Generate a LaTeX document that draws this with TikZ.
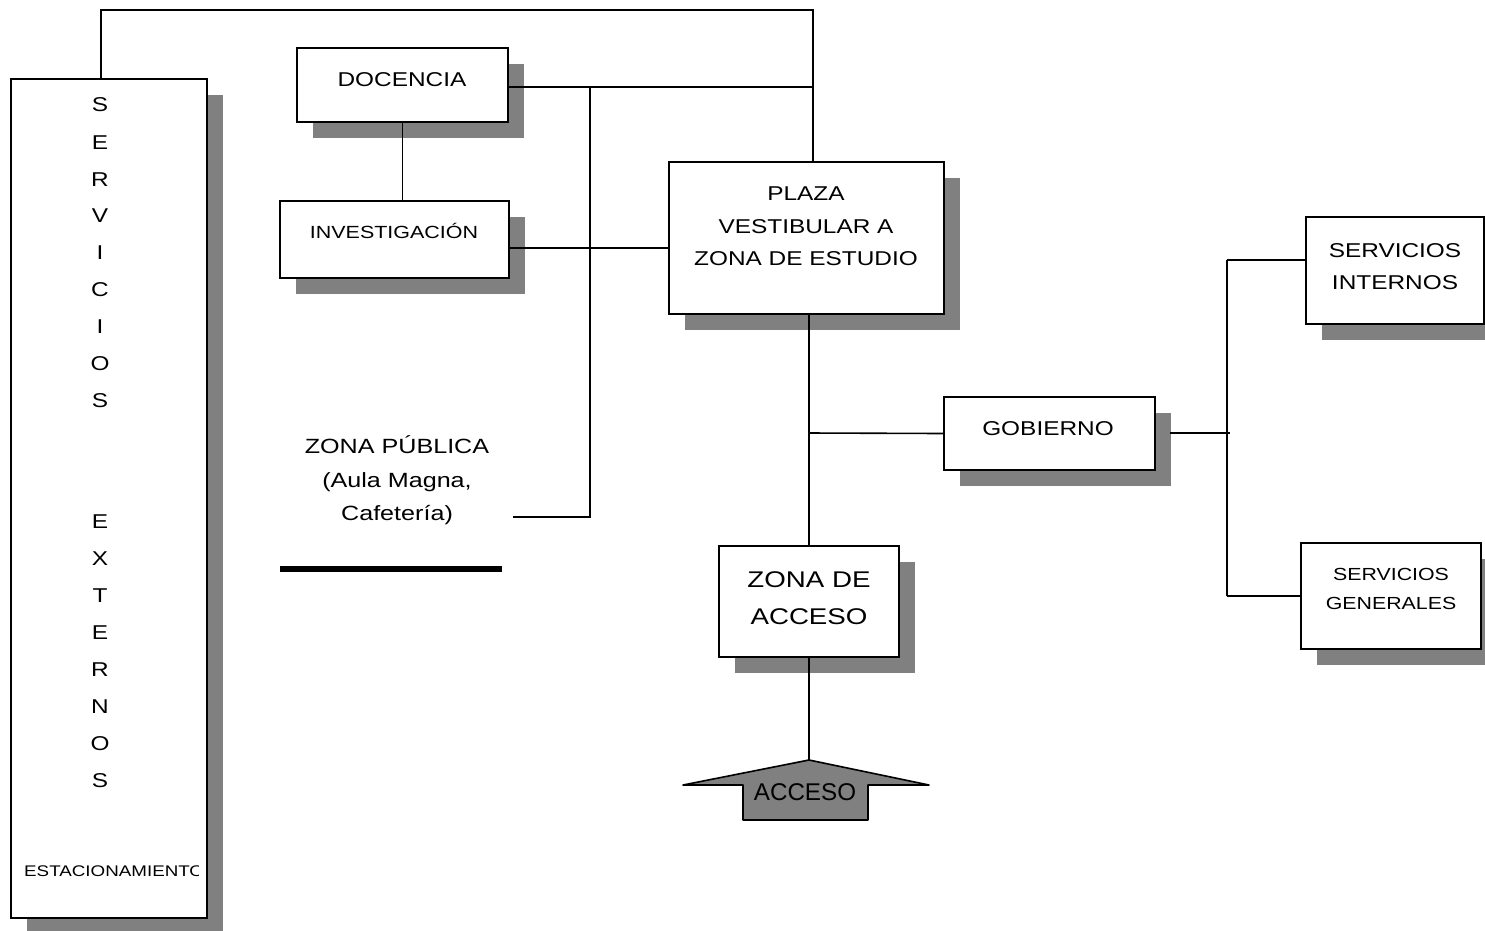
\documentclass[tikz,border=0pt]{standalone}
\usepackage{fontspec}
\setmainfont{Liberation Sans}[FakeStretch=1.22]
\newfontfamily\plainfont{Liberation Sans}
\usetikzlibrary{shadows}
\definecolor{shadowgray}{RGB}{128,128,128}
\begin{document}
\begin{tikzpicture}[x=1pt,y=-1pt,
  box/.style={draw=black, line width=1.6pt, fill=white, inner sep=0pt,
    drop shadow={shadow xshift=16pt, shadow yshift=-16pt, fill=shadowgray, opacity=1, draw=none}},
  conn/.style={draw=black, line width=1.6pt},
  lbl/.style={inner sep=0pt, align=center, text=black},
  f20/.style={font=\fontsize{20}{32.5}\selectfont},
  f17/.style={font=\fontsize{17.6}{29}\selectfont},
  f22/.style={font=\fontsize{22.7}{37}\selectfont}]
\useasboundingbox (0,0) rectangle (1485,930);
\fill[white] (0,0) rectangle (1485,930);

% boxes
\node[box, minimum width=196pt, minimum height=839pt] (serv) at (109,498.5) {};
\node[box, minimum width=211pt, minimum height=74pt] (doc) at (402.5,85) {};
\node[box, minimum width=229pt, minimum height=77pt] (inv) at (394.5,239.5) {};
\node[box, minimum width=275pt, minimum height=152pt] (plaza) at (806.5,238) {};
\node[box, minimum width=211pt, minimum height=73pt] (gob) at (1049.5,433.5) {};
\node[box, minimum width=180pt, minimum height=111pt] (acc) at (809,601.5) {};
\node[box, minimum width=178pt, minimum height=107pt] (int) at (1395,270.5) {};
\node[box, minimum width=180pt, minimum height=106pt] (gen) at (1391,596) {};

% coordinates
\coordinate (topL) at (101,10);
\coordinate (topR) at (813,10);
\coordinate (docR) at (813,87);
\coordinate (busT) at (590,87);
\coordinate (busB) at (590,517);
\coordinate (zpE) at (513,517);
\coordinate (invY) at (600,248);
\coordinate (gobJ) at (809,433);
\coordinate (gobR) at (1170,433);
\coordinate (gobE) at (1230,433);
\coordinate (vT) at (1227,260);
\coordinate (vB) at (1227,596);
\coordinate (tip) at (809,760);

% connectors
\draw[conn] (topL |- serv.north) -- (topL) -- (topR) -- (topR |- plaza.north);
\draw[conn] (doc.east |- docR) -- (docR);
\draw[conn] (busT) -- (busB) -- (zpE);
\draw[conn] (doc.south) -- (inv.north -| doc.south);
\draw[conn] (inv.east |- invY) -- (plaza.west |- invY);
\draw[conn] (acc.north) -- (acc.north |- plaza.south);
\draw[conn] (gobJ) -- (gob.west);
\draw[conn] (gobR) -- (gobE);
\draw[conn] (vT) -- (vB);
\draw[conn] (vT) -- (int.west |- vT);
\draw[conn] (vB) -- (gen.west |- vB);
\draw[conn] (acc.south) -- (tip);

% access arrow
\draw[line width=1.6pt, fill=shadowgray, line join=round]
  (tip) -- (929,785) -- (868,785) -- (868,820) -- (743,820) -- (743,785) -- (683,785) -- cycle;
\node[lbl, font=\plainfont\fontsize{24.2}{28}\selectfont] (accT) at (805,792) {ACCESO};

% thick bar
\draw[line width=6pt] (280,569) -- (502,569);

% texts
\foreach \ch/\yy [count=\i] in {S/105,E/143,R/180,V/216,I/253,C/290,I/327,O/364,S/401,E/522,X/559,T/596,E/633,R/670,N/707,O/744,S/781}
  \node[lbl, f20] (sv\i) at (100,\yy) {\ch};
\begin{scope}
  \clip (12,850) rectangle (198,892);
  \node[lbl, anchor=west, font=\fontsize{15.4}{18}\selectfont] (est) at (24,871) {ESTACIONAMIENTO};
\end{scope}
\node[lbl, f20] (docT) at (402,80) {DOCENCIA};
\node[lbl, f17] (invT) at (394,231) {INVESTIGACIÓN};
\node[lbl, f20] (plazaT) at (806,226.5) {PLAZA\\VESTIBULAR A\\ZONA DE ESTUDIO};
\node[lbl, font=\fontsize{20.6}{33.5}\selectfont] (zpT) at (397,480.5) {ZONA PÚBLICA\\(Aula Magna,\\Cafetería)};
\node[lbl, f20] (gobT) at (1048,429) {GOBIERNO};
\node[lbl, f22] (accBT) at (809,598.5) {ZONA DE\\ACCESO};
\node[lbl, f20] (intT) at (1395,266.5) {SERVICIOS\\INTERNOS};
\node[lbl, font=\fontsize{17.5}{29}\selectfont] (genT) at (1391,588.5) {SERVICIOS\\GENERALES};
\end{tikzpicture}
\end{document}
